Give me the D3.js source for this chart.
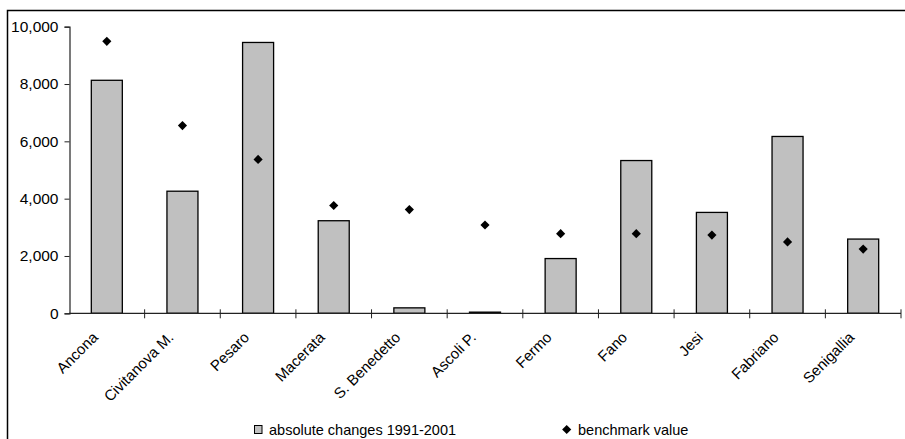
<!DOCTYPE html>
<html>
<head>
<meta charset="utf-8">
<script src="https://cdn.jsdelivr.net/npm/d3@7/dist/d3.min.js"></script>
<style>
  html, body { margin: 0; padding: 0; background: #fff; }
  svg { display: block; }
  text { font-family: "Liberation Sans", Arial, sans-serif; fill: #000; }
</style>
</head>
<body>
<svg id="chart" width="905" height="439"></svg>
<script>
// Cities and their values
const cities = ["Ancona", "Civitanova M.", "Pesaro", "Macerata", "S. Benedetto",
  "Ascoli P.", "Fermo", "Fano", "Jesi", "Fabriano", "Senigallia"];
const absoluteChanges = [8130, 4260, 9450, 3230, 190, 40, 1910, 5330, 3520, 6170, 2590];
const benchmarkValues = [9490, 6550, 5370, 3760, 3620, 3080, 2780, 2780, 2730, 2490, 2240];
const yTicks = [0, 2000, 4000, 6000, 8000, 10000];
const legendLabels = ["absolute changes 1991-2001", "benchmark value"];

const svg = d3.select("#chart");

// outer frame (right and bottom edges fall outside the view)
svg.append("rect")
  .attr("x", 7.5).attr("y", 10.5)
  .attr("width", 905).attr("height", 440)
  .attr("fill", "none").attr("stroke", "#000").attr("stroke-width", 1.5);

const x = d3.scaleBand().domain(cities).range([69, 901]).padding(0);
const y = d3.scaleLinear().domain([0, 10000]).range([313.3, 26.7]);

// y axis
const yAxis = svg.append("g").attr("transform", "translate(69.5,0)")
  .call(d3.axisLeft(y).tickValues(yTicks).tickFormat(d3.format(",")).tickSize(5).tickPadding(6));
yAxis.select(".domain").attr("stroke", "#222").attr("stroke-width", 1.2);
yAxis.selectAll(".tick line").attr("stroke", "#222");
yAxis.selectAll(".tick text").style("font-size", "15.5px")
  .style("font-family", "'Liberation Sans', Arial, sans-serif");

// bars
const barW = x.bandwidth() * 0.41;
svg.append("g").selectAll("rect").data(cities).join("rect")
  .attr("x", (d) => x(d) + (x.bandwidth() - barW) / 2)
  .attr("y", (d, i) => y(absoluteChanges[i]))
  .attr("width", barW)
  .attr("height", (d, i) => y(0) - y(absoluteChanges[i]))
  .attr("fill", "#C0C0C0")
  .attr("stroke", "#000")
  .attr("stroke-width", 1.3);

// x axis baseline and category ticks
const xAxisG = svg.append("g");
xAxisG.append("line")
  .attr("x1", 69).attr("x2", 901)
  .attr("y1", y(0)).attr("y2", y(0))
  .attr("stroke", "#222").attr("stroke-width", 1.2);
const bounds = cities.map((c) => x(c) + x.bandwidth());
xAxisG.selectAll("line.tk").data(bounds).join("line")
  .attr("class", "tk")
  .attr("x1", (d) => d).attr("x2", (d) => d)
  .attr("y1", y(0) - 4).attr("y2", y(0) + 5)
  .attr("stroke", "#222").attr("stroke-width", 1);

// rotated category labels
svg.append("g").selectAll("text").data(cities).join("text")
  .attr("transform", (d) => `translate(${x(d) + x.bandwidth() / 2 - 8},${y(0) + 25}) rotate(-45)`)
  .attr("text-anchor", "end")
  .style("font-size", "15px")
  .text((d) => d);

// benchmark markers
const diamond = d3.symbol(d3.symbolSquare, 42);
svg.append("g").selectAll("path").data(cities).join("path")
  .attr("d", diamond)
  .attr("transform", (d, i) => `translate(${x(d) + x.bandwidth() / 2},${y(benchmarkValues[i])}) rotate(45)`)
  .attr("fill", "#000");

// legend
const lg = svg.append("g");
lg.append("rect")
  .attr("x", 254.5).attr("y", 425.5).attr("width", 7.5).attr("height", 8)
  .attr("fill", "#C0C0C0").attr("stroke", "#000").attr("stroke-width", 1);
lg.append("text").attr("x", 269).attr("y", 435).style("font-size", "14.5px").text(legendLabels[0]);
lg.append("path")
  .attr("d", diamond)
  .attr("transform", "translate(566.7,429.5) rotate(45)")
  .attr("fill", "#000");
lg.append("text").attr("x", 578).attr("y", 435).style("font-size", "14.5px").text(legendLabels[1]);
</script>
</body>
</html>
